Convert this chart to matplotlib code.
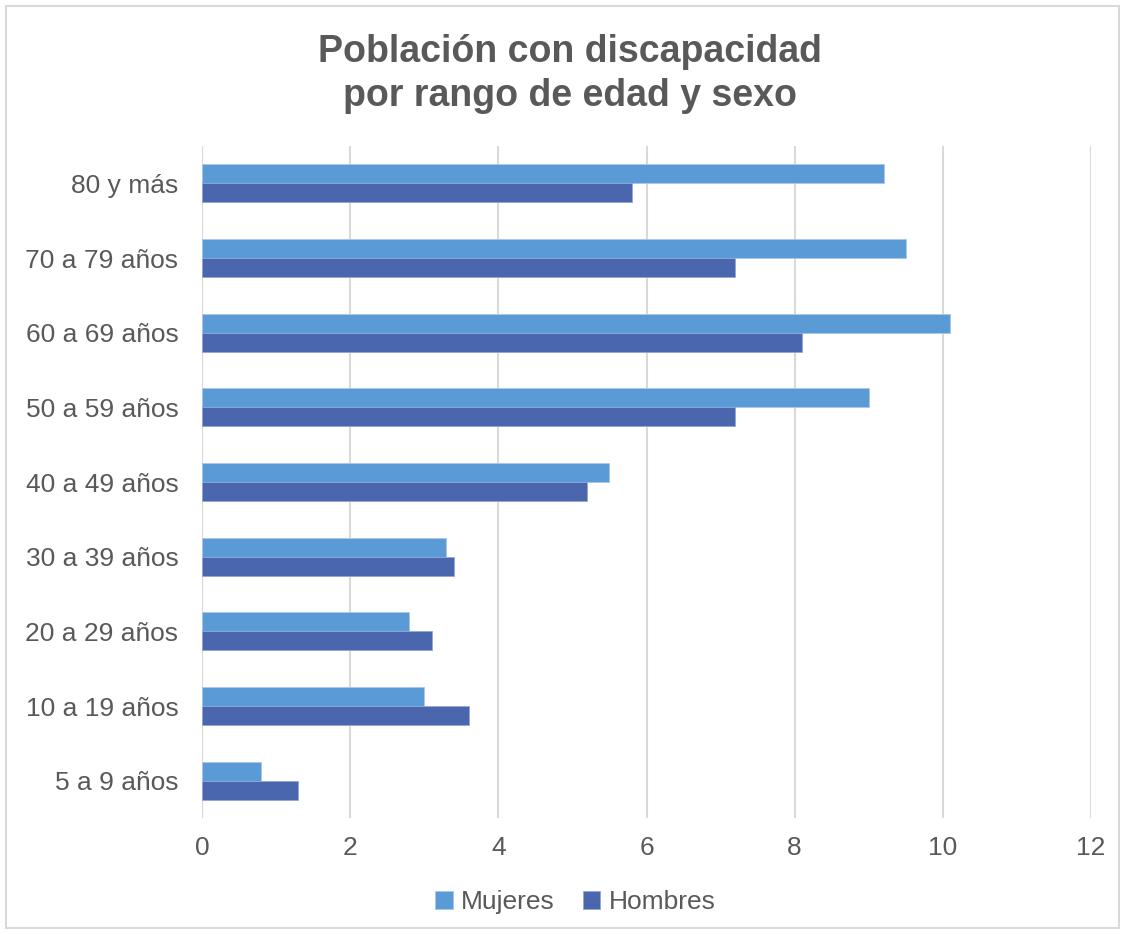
import matplotlib
matplotlib.use("Agg")
import matplotlib.pyplot as plt
import numpy as np

# age groups, listed top to bottom as in the chart
grupos = ["80 y más", "70 a 79 años", "60 a 69 años", "50 a 59 años", "40 a 49 años",
          "30 a 39 años", "20 a 29 años", "10 a 19 años", "5 a 9 años"]
mujeres = [9.2, 9.5, 10.1, 9.0, 5.5, 3.3, 2.8, 3.0, 0.8]
hombres = [5.8, 7.2, 8.1, 7.2, 5.2, 3.4, 3.1, 3.6, 1.3]
xticks = [0, 2, 4, 6, 8, 10, 12]

plt.rcParams['font.family'] = ['Liberation Sans', 'DejaVu Sans']
gris = "#595959"

fig = plt.figure(figsize=(11.25, 9.34), dpi=100)
ax = fig.add_axes([202/1125, 1-818/934, (1091-202)/1125, (818-146)/934])

y = np.arange(len(grupos))[::-1].astype(float)
h = 0.255
ax.barh(y + h/2, mujeres, height=h, color="#5B9BD5", edgecolor="#A9C8EA", linewidth=0.6, label="Mujeres", zorder=3)
ax.barh(y - h/2, hombres, height=h, color="#4A66AC", edgecolor="#93A6D6", linewidth=0.6, label="Hombres", zorder=3)

ax.set_xlim(0, 12)
ax.set_ylim(-0.5, len(grupos) - 0.5)
ax.set_xticks(xticks)
ax.set_xticklabels([str(t) for t in xticks])
ax.set_yticks(y)
ax.set_yticklabels(grupos)
ax.tick_params(axis='both', length=0, labelsize=19, colors=gris)
ax.tick_params(axis='x', pad=13)
ax.tick_params(axis='y', pad=17)
for lab in ax.get_yticklabels():
    lab.set_va('center_baseline')
ax.grid(axis='x', color="#D9D9D9", linewidth=1.5, zorder=0)
for s in ax.spines.values():
    s.set_visible(False)

fig.text(0.507, 1-74/934, "Población con discapacidad\npor rango de edad y sexo", ha='center', va='center',
         fontsize=27, fontweight='bold', color=gris, linespacing=1.3)

ax.legend(loc='center', bbox_to_anchor=(0.42, -0.125), ncol=2, frameon=False, fontsize=19,
          labelcolor=gris, handlelength=0.65, handleheight=0.65, handletextpad=0.3, columnspacing=1.1)

# light border round the chart
fig.patches.append(plt.Rectangle((6/1125, 6/934), 1-12/1125, 1-12/934, transform=fig.transFigure,
                                 fill=False, edgecolor="#D9D9D9", linewidth=1.5))

fig.savefig("out.png", dpi=100, facecolor="white")
